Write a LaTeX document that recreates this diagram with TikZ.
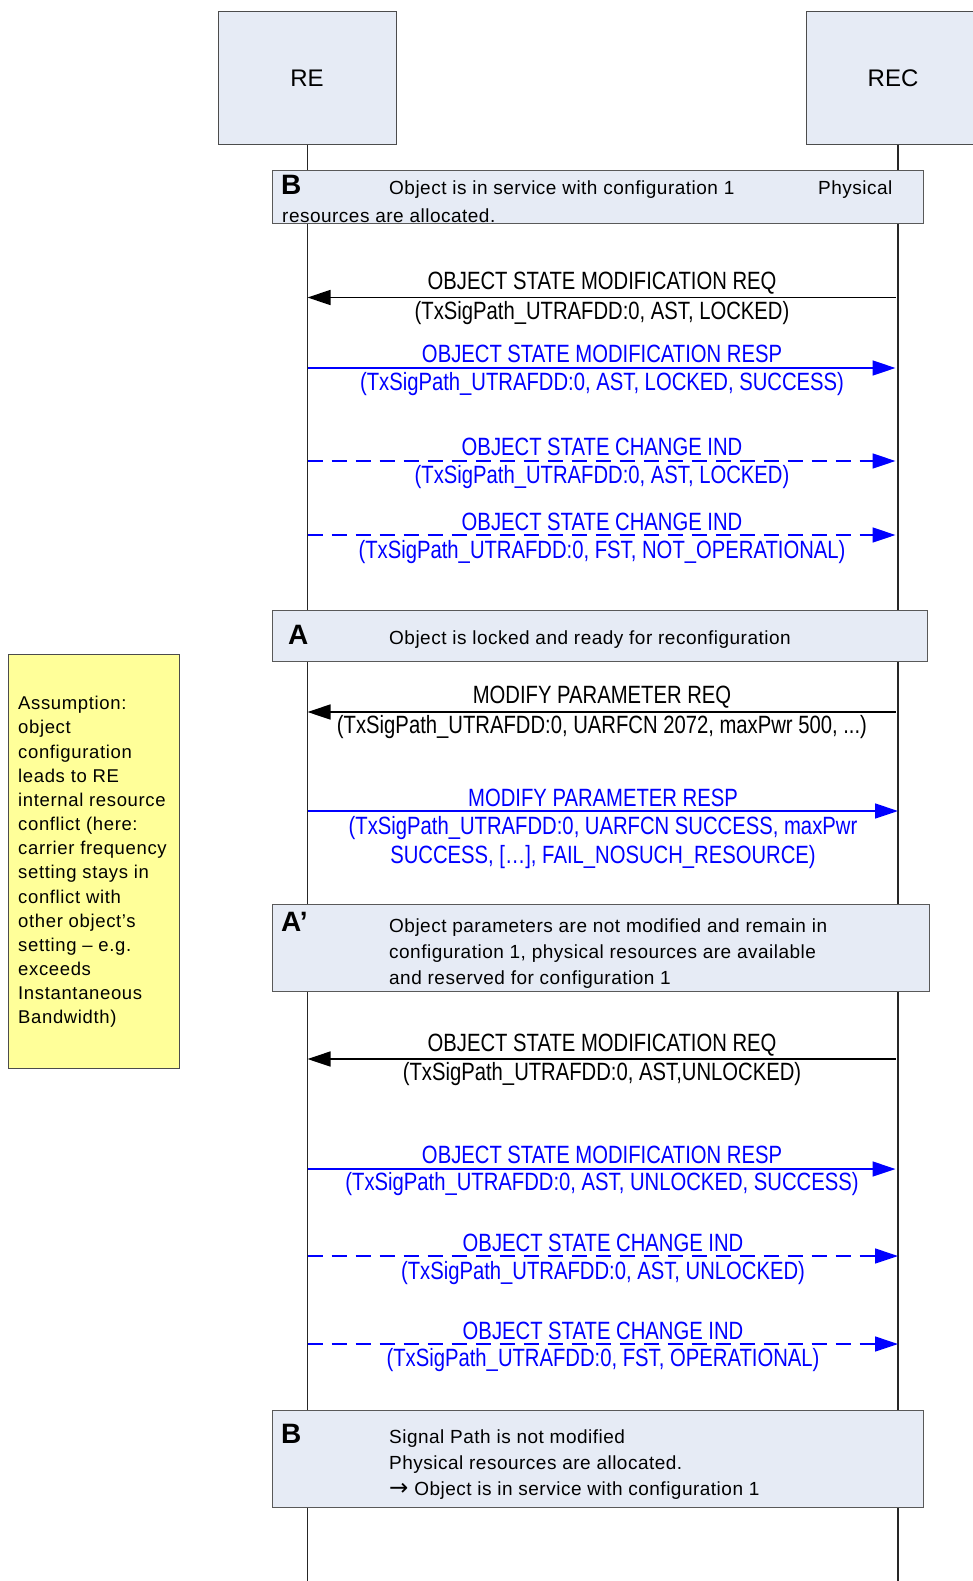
\documentclass[tikz,border=0pt]{standalone}
\usepackage{fontspec}
\setmainfont{Liberation Sans}
\newfontfamily\msgfont[FakeStretch=0.81]{Liberation Sans}
\newfontfamily\boxfont[LetterSpace=2.6]{Liberation Sans}
\newfontfamily\notefont[LetterSpace=3.5]{Liberation Sans}
\newfontfamily\arrfont{DejaVu Sans}
\usetikzlibrary{arrows.meta}
\definecolor{boxfill}{HTML}{E6EBF5}
\definecolor{notefill}{HTML}{FFFF99}
\definecolor{msgblue}{HTML}{0000FF}
\begin{document}
\begin{tikzpicture}[x=1pt,y=-1pt,
  actor/.style={draw=black!70, fill=boxfill, line width=1pt, inner sep=0,
    minimum height=133pt, font=\fontsize{24}{26}\selectfont},
  statebox/.style={draw=black!65, fill=boxfill, line width=1pt, inner sep=0},
  lifeline/.style={line width=1.5pt, black!85},
  req/.style={line width=1.4pt, -{Triangle[length=23pt,width=15pt]}},
  resp/.style={req, msgblue},
  ind/.style={resp, dash pattern=on 15pt off 9pt},
  msg/.style={font=\msgfont\fontsize{25}{30}\selectfont, inner sep=0},
  bluemsg/.style={msg, text=msgblue},
  txt/.style={font=\boxfont\fontsize{19}{26}\selectfont, inner sep=0, anchor=west, align=left},
  tag/.style={font=\bfseries\fontsize{28}{30}\selectfont, inner sep=0, anchor=west},
  note/.style={draw=black!70, fill=notefill, line width=1pt, inner sep=0}
]
\useasboundingbox (0,0) rectangle (973,1581);
\fill[white] (0,0) rectangle (973,1581);

% actors
\node[actor, minimum width=178pt] (RE) at (307,78.5) {RE};
\node[actor, minimum width=174pt] (REC) at (893,78.5) {REC};

% lifelines
\coordinate (REend) at (307.5,1581);
\coordinate (RECtop) at (898,145);
\coordinate (RECend) at (898,1581);
\draw[lifeline] (RE.south -| REend) -- (REend);
\draw[lifeline] (RECtop) -- (RECend);

% state boxes
\node[statebox, minimum width=651pt, minimum height=52pt] (B1) at (597.5,197) {};
\node[tag] (B1t) at (281,184.5) {B};
\node[txt] (B1a) at (389,189.5) {Object is in service with configuration 1};
\node[txt] (B1b) at (818,189.5) {Physical};
\node[txt] (B1c) at (282,216) {resources are allocated.};

\node[statebox, minimum width=655pt, minimum height=51pt] (A) at (599.5,635.5) {};
\node[tag] (At) at (288,634.5) {A};
\node[txt] (Aa) at (389,640) {Object is locked and ready for reconfiguration};

\node[statebox, minimum width=657pt, minimum height=87pt] (Ap) at (600.5,947.5) {};
\node[tag] (Apt) at (281,921.5) {A’};
\node[txt] (Apa) at (389,954) {Object parameters are not modified and remain in\\configuration 1, physical resources are available\\and reserved for configuration 1};

\node[statebox, minimum width=651pt, minimum height=97pt] (B2) at (597.5,1458.5) {};
\node[tag] (B2t) at (281,1434) {B};
\node[txt] (B2a) at (389,1465) {Signal Path is not modified\\Physical resources are allocated.\\{\arrfont\fontsize{23}{26}\selectfont →}\ Object is in service with configuration 1};

% note
\node[note, minimum width=171.5pt, minimum height=414pt] (N) at (93.75,861) {};
\node[txt, font=\notefont\fontsize{18.5}{24.15}\selectfont] (Nt) at (18,862) {Assumption:\\object\\configuration\\leads to RE\\internal resource\\conflict (here:\\carrier frequency\\setting stays in\\conflict with\\other object’s\\setting – e.g.\\exceeds\\Instantaneous\\Bandwidth)};

% message end points
\foreach \i/\y/\e in {1/297.5/895.5, 2/368/895.5, 3/461/895.5, 4/535/895.5, 5/712/895.5,
    6/811/898, 7/1059/895.5, 8/1169/895.5, 9/1256/898, 10/1344/898} {
  \coordinate (re\i) at (307.5,\y);
  \coordinate (rec\i) at (\e,\y);
}

% 1
\draw[req] (rec1) -- (re1);
\node[msg] (m1a) at (602,283.5) {OBJECT STATE MODIFICATION REQ};
\node[msg] (m1b) at (602,313) {(TxSigPath\_UTRAFDD:0, AST, LOCKED)};
% 2
\draw[resp] (re2) -- (rec2);
\node[bluemsg] (m2a) at (602,354) {OBJECT STATE MODIFICATION RESP};
\node[bluemsg] (m2b) at (602,384.5) {(TxSigPath\_UTRAFDD:0, AST, LOCKED, SUCCESS)};
% 3
\draw[ind] (re3) -- (rec3);
\node[bluemsg] (m3a) at (602,447) {OBJECT STATE CHANGE IND};
\node[bluemsg] (m3b) at (602,477.5) {(TxSigPath\_UTRAFDD:0, AST, LOCKED)};
% 4
\draw[ind] (re4) -- (rec4);
\node[bluemsg] (m4a) at (602,522) {OBJECT STATE CHANGE IND};
\node[bluemsg] (m4b) at (602,552) {(TxSigPath\_UTRAFDD:0, FST, NOT\_OPERATIONAL)};
% 5
\draw[req] (rec5) -- (re5);
\node[msg] (m5a) at (602,697) {MODIFY PARAMETER REQ};
\node[msg] (m5b) at (602,727.5) {(TxSigPath\_UTRAFDD:0, UARFCN 2072, maxPwr 500, ...)};
% 6
\draw[resp] (re6) -- (rec6);
\node[bluemsg] (m6a) at (603,797.5) {MODIFY PARAMETER RESP};
\node[bluemsg] (m6b) at (603,828) {(TxSigPath\_UTRAFDD:0, UARFCN SUCCESS, maxPwr};
\node[bluemsg] (m6c) at (603,857.5) {SUCCESS, […], FAIL\_NOSUCH\_RESOURCE)};
% 7
\draw[req] (rec7) -- (re7);
\node[msg] (m7a) at (602,1045) {OBJECT STATE MODIFICATION REQ};
\node[msg] (m7b) at (602,1074.5) {(TxSigPath\_UTRAFDD:0, AST,UNLOCKED)};
% 8
\draw[resp] (re8) -- (rec8);
\node[bluemsg] (m8a) at (602,1154.5) {OBJECT STATE MODIFICATION RESP};
\node[bluemsg] (m8b) at (602,1184.5) {(TxSigPath\_UTRAFDD:0, AST, UNLOCKED, SUCCESS)};
% 9
\draw[ind] (re9) -- (rec9);
\node[bluemsg] (m9a) at (603,1243) {OBJECT STATE CHANGE IND};
\node[bluemsg] (m9b) at (603,1273) {(TxSigPath\_UTRAFDD:0, AST, UNLOCKED)};
% 10
\draw[ind] (re10) -- (rec10);
\node[bluemsg] (m10a) at (603,1331) {OBJECT STATE CHANGE IND};
\node[bluemsg] (m10b) at (603,1360.5) {(TxSigPath\_UTRAFDD:0, FST, OPERATIONAL)};
\end{tikzpicture}
\end{document}
